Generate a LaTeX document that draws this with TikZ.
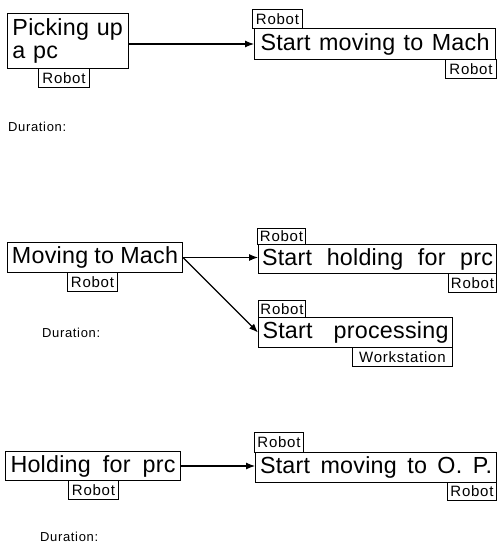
\documentclass[tikz,border=0pt]{standalone}
\usepackage{fontspec}
\setmainfont{Liberation Sans}
\newfontfamily\eventfamily[LetterSpace=1]{Liberation Sans}
\newfontfamily\tagfamily[LetterSpace=5]{Liberation Sans}
\usetikzlibrary{arrows.meta}
% a line of text spread to a given width (spaces stretch)
\newcommand\spreadline[2]{\makebox[#1pt][s]{#2}}
\begin{document}
\begin{tikzpicture}[x=1pt,y=-1pt,
  event/.style={draw, line width=1pt, inner sep=0pt, anchor=north west,
                font=\eventfamily\fontsize{23.3}{23.5}\selectfont},
  tag/.style={draw, line width=0.9pt, inner sep=0pt, anchor=north west,
              minimum height=19pt, font=\tagfamily\fontsize{15}{15}\selectfont},
  link/.style={line width=1.1pt, -{Latex[length=9pt,width=7pt]}},
  durlabel/.style={anchor=west, inner sep=0pt,
                   font=\tagfamily\fontsize{13}{13}\selectfont}]
\useasboundingbox (0,0) rectangle (497,546);

% ---- first transition ----
\node[event, minimum width=121pt, minimum height=55pt, text width=111pt, align=left]
  (b1) at (7,13) {\spreadline{111}{Picking up}\\a pc};
\node[tag, minimum width=51pt] (r1) at (38,68) {Robot};
\node[event, minimum width=241pt, minimum height=31pt]
  (b2) at (254,28) {\spreadline{229}{Start moving to Mach}};
\node[tag, minimum width=50pt] (r2a) at (252,9) {Robot};
\node[tag, minimum width=51pt] (r2b) at (445,59) {Robot};
\draw[link] (b1.east |- b2.west) -- (b2.west);
\node[durlabel] (d1) at (8,127) {Duration:};

% ---- second transition ----
\node[event, minimum width=175pt, minimum height=30pt]
  (b3) at (7,242) {\spreadline{166}{Moving to Mach}};
\node[tag, minimum width=50pt] (r3) at (67,272) {Robot};
\node[event, minimum width=238pt, minimum height=29pt]
  (b4) at (258,244) {\spreadline{231}{Start holding for prc}};
\node[tag, minimum width=48pt, minimum height=16pt] (r4a) at (257,228) {Robot};
\node[tag, minimum width=48pt] (r4b) at (448,273) {Robot};
\node[event, minimum width=194pt, minimum height=30pt]
  (b5) at (258,317) {\spreadline{186}{Start processing}};
\node[tag, minimum width=47pt, minimum height=17pt] (r5) at (258,300) {Robot};
\node[tag, minimum width=100pt] (w5) at (352,347) {Workstation};
\draw[link] (b3.east) -- (b3.east -| b4.west);
\draw[link] (b3.east) -- (b5.west);
\node[durlabel] (d2) at (42,333) {Duration:};

% ---- third transition ----
\node[event, minimum width=175pt, minimum height=29pt]
  (b6) at (5,451) {\spreadline{165}{Holding for prc}};
\node[tag, minimum width=50pt] (r6) at (68,480) {Robot};
\node[event, minimum width=241pt, minimum height=30pt]
  (b7) at (255,452) {\spreadline{232}{Start moving to O. P.}};
\node[tag, minimum width=49pt, minimum height=20pt] (r7a) at (254,432) {Robot};
\node[tag, minimum width=49pt, minimum height=18pt] (r7b) at (447,482) {Robot};
\draw[link] (b6.east) -- (b6.east -| b7.west);
\node[durlabel] (d3) at (40,537) {Duration:};
\end{tikzpicture}
\end{document}
